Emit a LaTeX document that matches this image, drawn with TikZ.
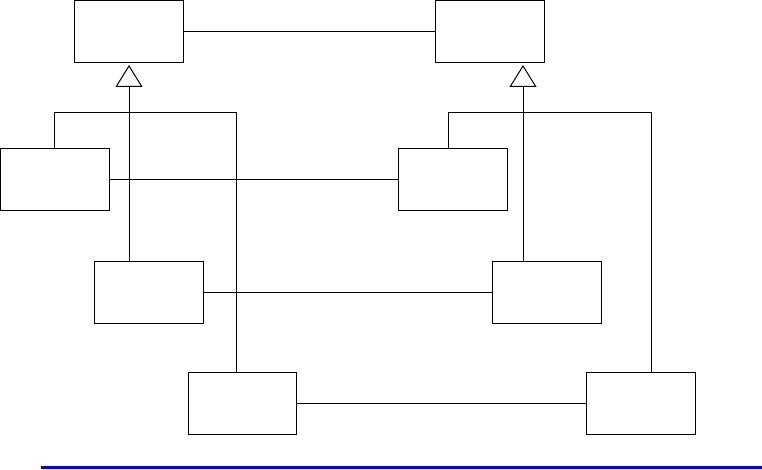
\documentclass[tikz,border=0pt]{standalone}
\usetikzlibrary{arrows.meta}
\begin{document}
\begin{tikzpicture}[x=1pt,y=-1pt,
  cls/.style={draw=black,line width=1pt,minimum width=109pt,minimum height=62pt,inner sep=0pt,outer sep=0pt,fill=white},
  ln/.style={draw=black,line width=1pt},
  gen/.style={ln,-{Triangle[open,length=22pt,width=27pt,line width=1pt]}}]
\useasboundingbox (0,0) rectangle (762,470);
% class boxes
\node[cls,anchor=north west] (tl) at (74,0.5) {};
\node[cls,anchor=north west] (tr) at (435,0.5) {};
\node[cls,anchor=north west] (al) at (0.5,149) {};
\node[cls,anchor=north west] (ar) at (398,149) {};
\node[cls,anchor=north west] (bl) at (94,261) {};
\node[cls,anchor=north west] (br) at (492,261) {};
\node[cls,anchor=north west,minimum width=108pt] (cl) at (188.5,372) {};
\node[cls,anchor=north west] (cr) at (586,372) {};
% junction coordinates
\coordinate (lapex) at (129,65);
\coordinate (rapex) at (523,65);
\coordinate (lb1) at (54,113);
\coordinate (lb2) at (236,113);
\coordinate (rb1) at (448,113);
\coordinate (rb2) at (651,113);
% associations
\draw[ln] (tl.east) -- (tr.west);
\draw[ln] (al.east) -- (ar.west);
\draw[ln] (bl.east) -- (br.west);
\draw[ln] (cl.east) -- (cr.west);
% generalizations left
\draw[ln] (al.north -| lb1) -- (lb1) -- (lb2) -- (cl.north -| lb2);
\draw[gen] (bl.north -| lapex) -- (lapex);
% generalizations right
\draw[ln] (ar.north -| rb1) -- (rb1) -- (rb2) -- (cr.north -| rb2);
\draw[gen] (br.north -| rapex) -- (rapex);
% bottom rule
\coordinate (rs) at (41,467.5);
\coordinate (re) at (762,467.5);
\draw[blue,line width=2.5pt] (rs) -- (re);
\end{tikzpicture}
\end{document}
